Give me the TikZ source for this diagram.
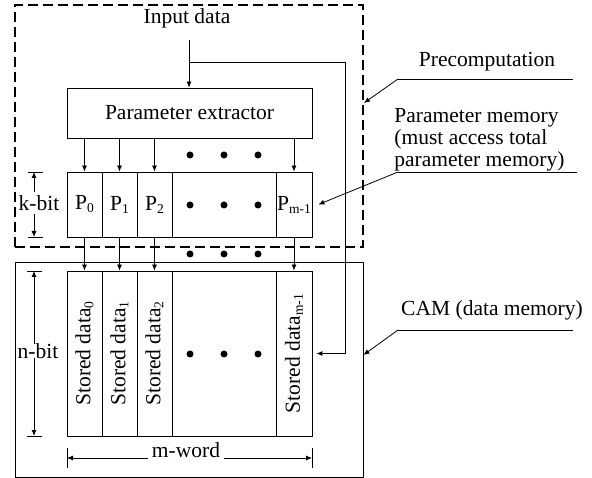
\documentclass[tikz,border=0pt]{standalone}
\usepackage{fontspec}
\setmainfont{Liberation Serif}
\usetikzlibrary{arrows.meta}
\newcommand\subidx[1]{\raisebox{-0.3ex}{\fontsize{13.5}{14}\selectfont #1}}

\begin{document}
\begin{tikzpicture}[x=1pt,y=-1pt,line width=0.8pt,
    every node/.style={font=\fontsize{21.5}{22}\selectfont},
    cell/.style={draw, inner sep=0pt, minimum height=65pt},
    word/.style={draw, inner sep=0pt, minimum height=165pt},
    arr/.style={-{Latex[length=6pt,width=5pt]}}]
  \useasboundingbox (0,0) rectangle (592,478);
  % blocks
  \node (pre) [draw, line width=1.8pt, dash pattern=on 10pt off 5pt,
    minimum width=348pt, minimum height=242pt] at (189,126) {};
  \node (cam) [draw, minimum width=348pt, minimum height=215pt] at (189,369.5) {};
  \node (inp) at (187,18) {Input data};
  \node (ext) [draw, minimum width=245pt, minimum height=50pt] at (189.5,113) {Parameter extractor};
  % parameter memory
  \node (p0) [cell, minimum width=35pt] at (84.5,204.5) {P\subidx{0}};
  \node (p1) [cell, minimum width=35pt] at (119.5,204.5) {P\subidx{1}};
  \node (p2) [cell, minimum width=35pt] at (154.5,204.5) {P\subidx{2}};
  \node (pd) [cell, minimum width=104pt] at (224,204.5) {};
  \node (pm) [cell, minimum width=36pt] at (294,204.5) {P\subidx{m-1}};
  % data memory
  \node (s0) [word, minimum width=35pt] at (84.5,353.5) {};
  \node (s1) [word, minimum width=35pt] at (119.5,353.5) {};
  \node (s2) [word, minimum width=35pt] at (154.5,353.5) {};
  \node (sd) [word, minimum width=104pt] at (224,353.5) {};
  \node (sm) [word, minimum width=36pt] at (294,353.5) {};
  \node (t0) [rotate=90] at (s0) {Stored data\subidx{0}};
  \node (t1) [rotate=90] at (s1) {Stored data\subidx{1}};
  \node (t2) [rotate=90] at (s2) {Stored data\subidx{2}};
  \node (tm) [rotate=90] at (sm) {Stored data\subidx{m-1}};
  % dots
  \fill (190,155) circle (3.5pt) (224,155) circle (3.5pt) (258,155) circle (3.5pt);
  \fill (190,205) circle (3.5pt) (224,205) circle (3.5pt) (258,205) circle (3.5pt);
  \fill (190,254) circle (3.5pt) (224,254) circle (3.5pt) (258,254) circle (3.5pt);
  \fill (190,354) circle (3.5pt) (224,354) circle (3.5pt) (258,354) circle (3.5pt);
  % input paths
  \coordinate (top) at (189,40);
  \coordinate (br) at (189,62);
  \coordinate (bend) at (345,62);
  \draw[arr] (top) -- (ext.north -| top);
  \draw[arr] (br) -- (bend) |- ([xshift=4pt]sm.east);
  \begin{scope}[arr]
    \draw (ext.south -| p0) -- (p0.north);
    \draw (ext.south -| p1) -- (p1.north);
    \draw (ext.south -| p2) -- (p2.north);
    \draw (ext.south -| pm) -- (pm.north);
    \draw (p0.south) -- (s0.north);
    \draw (p1.south) -- (s1.north);
    \draw (p2.south) -- (s2.north);
    \draw (pm.south) -- (sm.north);
  \end{scope}
  % dimensions
  \node (kb) at (39,203) {k-bit};
  \node (nb) at (38,351) {n-bit};
  \node (mw) at (186,450) {m-word};
  \coordinate (kt) at (34,172);
  \coordinate (kd) at (34,237);
  \coordinate (nt) at (34,271);
  \coordinate (nd) at (34,436);
  \coordinate (ml) at (67,458);
  \coordinate (mr) at (312,458);
  \draw (28,172) -- (43,172) (28,237) -- (43,237);
  \draw (27,271) -- (42,271) (27,436) -- (42,436);
  \draw (67,448) -- (67,468) (312,448) -- (312,468);
  \begin{scope}[arr]
    \draw (kt |- kb.north) -- (kt);
    \draw (kd |- kb.south) -- (kd);
    \draw ([yshift=-4pt]nt |- nb.north) -- (nt);
    \draw ([yshift=4pt]nd |- nb.south) -- (nd);
    \draw (mw.west |- ml) -- (ml);
    \draw (mw.east |- mr) -- (mr);
  \end{scope}
  % callouts
  \node (prec) at (487,62) {Precomputation};
  \node (parm) [align=left, anchor=north west, inner sep=0pt] at (394,108)
    {Parameter memory\\(must access total\\parameter memory)};
  \node (camt) at (492,310) {CAM (data memory)};
  \coordinate (u1) at (398,79);
  \coordinate (u2) at (398,172);
  \coordinate (u3) at (398,330);
  \draw (573,79) -- (u1);
  \draw (577,172) -- (u2);
  \draw (573,330) -- (u3);
  \draw[arr] (u1) -- (pre.east |- 0,103);
  \draw[arr] (u2) -- ([xshift=6pt]pm.east);
  \draw[arr] (u3) -- (cam.east |- 0,355);
\end{tikzpicture}
\end{document}
